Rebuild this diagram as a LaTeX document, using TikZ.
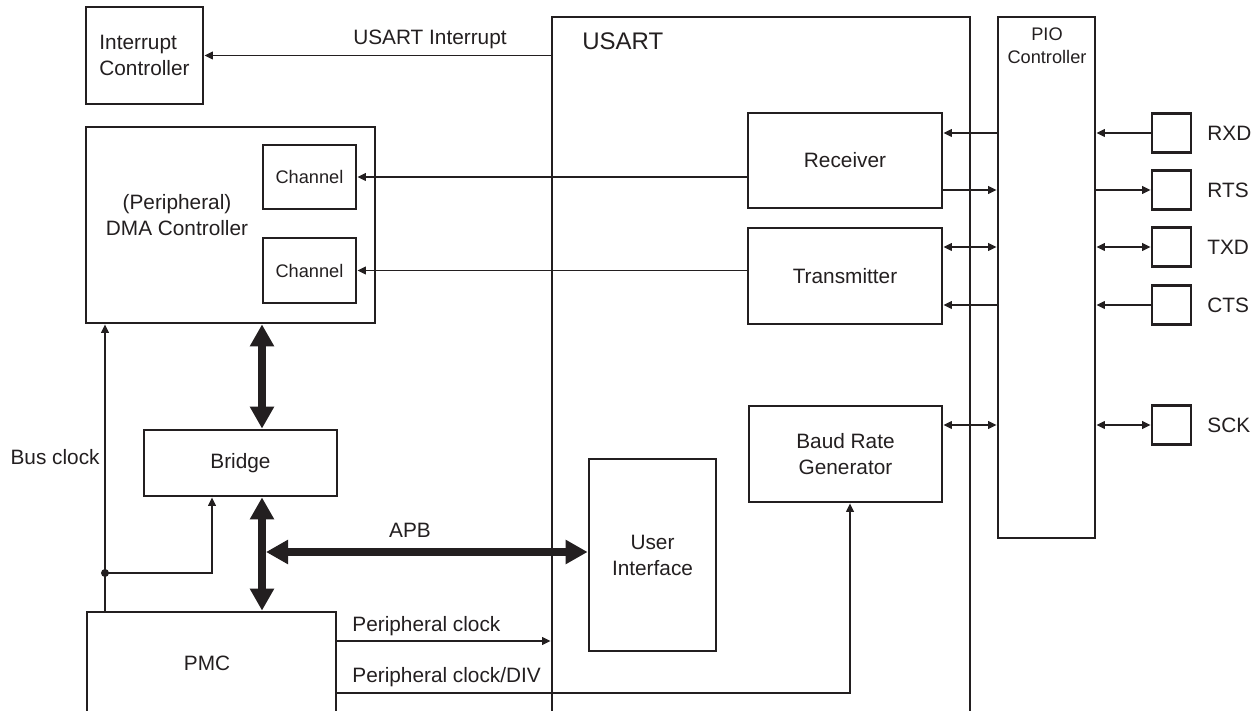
\documentclass[tikz,border=0pt]{standalone}
\usepackage{fontspec}
\setmainfont{Liberation Sans}
\usetikzlibrary{arrows.meta}
\definecolor{ink}{HTML}{231F20}
\begin{document}
\begin{tikzpicture}[x=0.5pt,y=-0.5pt,
  box/.style={draw=ink, line width=1.4pt, inner sep=0pt, align=center, text=ink,
    font=\fontsize{10.4}{13}\selectfont},
  small/.style={font=\fontsize{9.1}{11.5}\selectfont},
  lbl/.style={inner sep=0pt, text=ink, font=\fontsize{10.4}{13}\selectfont},
  wire/.style={draw=ink, line width=0.75pt},
  tip/.style={-{Triangle[length=4.2pt,width=3.8pt]}},
  tips/.style={{Triangle[length=4.2pt,width=3.8pt]}-{Triangle[length=4.2pt,width=3.8pt]}},
  bus/.style={draw=ink, line width=4.4pt,
    {Triangle[length=11pt,width=11.5pt]}-{Triangle[length=11pt,width=11.5pt]}},
  pin/.style={box, minimum width=19.5pt, minimum height=19.5pt}
]
\fill[white] (0,0) rectangle (1254,711);
\useasboundingbox (0,0) rectangle (1254,711);

% main blocks
\node[box, minimum width=58.5pt, minimum height=48.5pt, align=left] (ic) at (144.5,55.5) {Interrupt\\Controller};
\node[box, minimum width=209pt, minimum height=348.5pt] (usart) at (761,365.5) {};
\node[lbl, anchor=west, font=\fontsize{12}{14}\selectfont] at (582,41) {USART};
\node[box, minimum width=48.5pt, minimum height=260.5pt] (pio) at (1046.5,277.5) {};
\node[lbl, small, align=center] at (1047,46) {PIO\\Controller};

\node[box, minimum width=144.5pt, minimum height=98pt] (dma) at (230.5,225) {};
\node[lbl, align=center] at (177,215) {(Peripheral)\\DMA Controller};
\node[box, small, minimum width=46.5pt, minimum height=32pt] (ch1) at (309.5,177) {Channel};
\node[box, small, minimum width=46.5pt, minimum height=32.5pt] (ch2) at (309.5,270.5) {Channel};

\node[box, minimum width=96.5pt, minimum height=33pt] (bridge) at (240.5,463) {Bridge};
\node[box, minimum width=124.5pt, minimum height=51pt] (pmc) at (211.5,663) {};
\node[lbl] at (207,663) {PMC};

\node[box, minimum width=97pt, minimum height=47.5pt] (rx) at (845,160.5) {Receiver};
\node[box, minimum width=97pt, minimum height=48pt] (tx) at (845,276) {Transmitter};
\node[box, minimum width=96.5pt, minimum height=48pt] (brg) at (845.5,454) {Baud Rate\\Generator};
\node[box, minimum width=63.5pt, minimum height=96pt] (ui) at (652.5,555) {User\\Interface};

% pins
\node[pin] (rxd) at (1171.5,133) {};
\node[pin] (rts) at (1171.5,190) {};
\node[pin] (txd) at (1171.5,247) {};
\node[pin] (cts) at (1171.5,305) {};
\node[pin] (sck) at (1171.5,425) {};
\node[lbl, anchor=west] at (1207,133) {RXD};
\node[lbl, anchor=west] at (1207,190) {RTS};
\node[lbl, anchor=west] at (1207,247) {TXD};
\node[lbl, anchor=west] at (1207,305) {CTS};
\node[lbl, anchor=west] at (1207,425) {SCK};

% interrupt
\draw[wire, tip] (usart.west |- ic.east) -- (ic.east);
\node[lbl] at (430,39) {USART Interrupt};

% receiver / transmitter to DMA channels
\draw[wire, tip] (rx.west |- ch1.east) -- (ch1.east);
\draw[wire, tip] (tx.west |- ch2.east) -- (ch2.east);

% USART blocks <-> PIO
\draw[wire, tip] (pio.west |- rxd) -- (rx.east |- rxd);
\draw[wire, tip] (rx.east |- rts) -- (pio.west |- rts);
\draw[wire, tips] (tx.east |- txd) -- (pio.west |- txd);
\draw[wire, tip] (pio.west |- cts) -- (tx.east |- cts);
\draw[wire, tips] (brg.east |- sck) -- (pio.west |- sck);

% PIO <-> pins
\draw[wire, tip] (rxd.west) -- (pio.east |- rxd);
\draw[wire, tip] (pio.east |- rts) -- (rts.west);
\draw[wire, tips] (pio.east |- txd) -- (txd.west);
\draw[wire, tip] (cts.west) -- (pio.east |- cts);
\draw[wire, tips] (pio.east |- sck) -- (sck.west);

% buses
\coordinate (bx) at (262,0);
\coordinate (apb) at (266,552);
\draw[bus] (dma.south -| bx) -- (bridge.north -| bx);
\draw[bus] (bridge.south -| bx) -- (pmc.north -| bx);
\draw[bus] (apb) -- (ui.west |- apb);
\node[lbl] at (410,530) {APB};

% bus clock
\coordinate (bc) at (105,573);
\coordinate (fx) at (212,0);
\draw[wire] (pmc.north -| bc) -- (bc);
\draw[wire, tip] (bc) -- (dma.south -| bc);
\draw[wire, tip] (bc) -| (bridge.south -| fx);
\fill[ink] (bc) circle (2pt);
\node[lbl, anchor=east] at (100,457) {Bus clock};

% peripheral clocks
\coordinate (pcy) at (0,641);
\coordinate (dx) at (850,693);
\draw[wire, tip] (pmc.east |- pcy) -- (usart.west |- pcy);
\node[lbl, anchor=west] at (352,626) {Peripheral clock};
\draw[wire, tip] (pmc.east |- dx) -| (brg.south -| dx);
\node[lbl, anchor=west] at (352,677) {Peripheral clock/DIV};
\end{tikzpicture}
\end{document}
